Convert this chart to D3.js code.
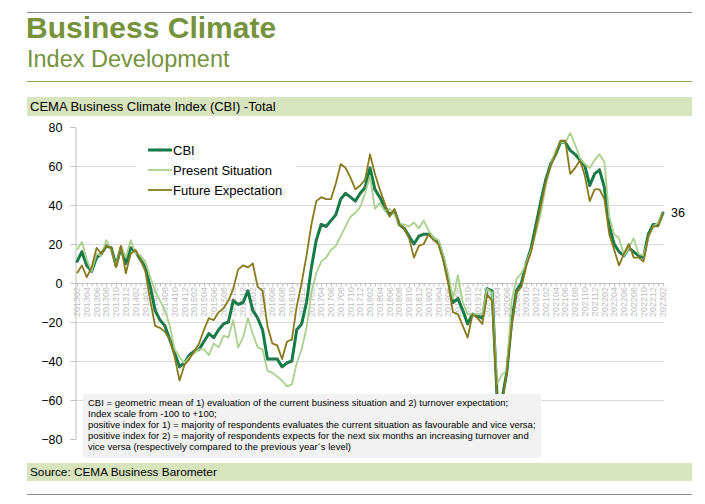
<!DOCTYPE html>
<html>
<head>
<meta charset="utf-8">
<script src="https://cdn.jsdelivr.net/npm/d3@7"></script>
<style>
  body { margin: 0; background: #fff; }
  svg { font-family: "Liberation Sans", Arial, sans-serif; }
</style>
</head>
<body>
<svg></svg>
<script>
// months 201302 .. 202302
var months = ("201302 201303 201304 201305 201306 201307 201308 201309 201310 201311 201312 " +
  "201401 201402 201403 201404 201405 201406 201407 201408 201409 201410 201411 201412 " +
  "201501 201502 201503 201504 201505 201506 201507 201508 201509 201510 201511 201512 " +
  "201601 201602 201603 201604 201605 201606 201607 201608 201609 201610 201611 201612 " +
  "201701 201702 201703 201704 201705 201706 201707 201708 201709 201710 201711 201712 " +
  "201801 201802 201803 201804 201805 201806 201807 201808 201809 201810 201811 201812 " +
  "201901 201902 201903 201904 201905 201906 201907 201908 201909 201910 201911 201912 " +
  "202001 202002 202003 202004 202005 202006 202007 202008 202009 202010 202011 202012 " +
  "202101 202102 202103 202104 202105 202106 202107 202108 202109 202110 202111 202112 " +
  "202201 202202 202203 202204 202205 202206 202207 202208 202209 202210 202211 202212 " +
  "202301 202302").split(" ");

var cbi = [11, 16, 9, 6, 13, 15, 19, 18, 9, 18, 10,
  18, 16, 12, 8, -2, -14, -19, -22, -29, -36, -43, -41,
  -37, -35, -34, -30, -26, -28, -24, -21, -20, -9, -11, -10,
  -4, -14, -18, -24, -39, -39, -39, -43, -41, -40, -24, -21,
  -10, 8, 22, 30, 29, 32, 35, 43, 46, 44, 42, 46,
  49, 59, 48, 44, 39, 35, 37, 30, 28, 24, 20, 24,
  25, 25, 23, 21, 13, 2, -10, -8, -14, -21, -16, -17,
  -18, -3, -4, -57, -60, -46, -20, -4, 0, 10, 18, 30,
  42, 53, 61, 66, 72, 72, 68, 66, 63, 60, 50, 56,
  58, 49, 29, 20, 16, 14, 18, 16, 14, 13, 25, 30,
  30, 36];

var present = [17, 21, 12, 6, 15, 14, 22, 17, 9, 19, 13,
  22, 15, 14, 11, 3, -4, -9, -14, -22, -34, -38, -41,
  -38, -36, -34, -34, -37, -31, -33, -27, -28, -19, -33, -28,
  -18, -26, -33, -34, -45, -46, -48, -50, -53, -52, -41, -34,
  -23, -5, 5, 11, 13, 17, 19, 24, 29, 34, 36, 39,
  46, 55, 38, 41, 37, 38, 35, 30, 30, 29, 31, 28,
  32, 27, 23, 22, 14, 5, -8, 4, -10, -16, -16, -16,
  -16, -3, -5, -52, -47, -45, -9, 2, 5, 10, 17, 26,
  36, 50, 60, 68, 72, 72, 77, 71, 64, 61, 59, 63,
  66, 62, 34, 25, 23, 14, 18, 23, 15, 14, 23, 29,
  31, 36];

var future = [5, 9, 3, 8, 18, 15, 19, 18, 8, 19, 5,
  15, 17, 12, 6, -9, -22, -23, -25, -29, -38, -50, -42,
  -39, -35, -31, -24, -18, -19, -15, -13, -9, -3, 7, 9,
  8, 10, -2, -4, -22, -31, -32, -39, -30, -29, -12, 0,
  14, 30, 42, 44, 43, 43, 51, 61, 59, 54, 48, 50,
  53, 66, 56, 48, 41, 34, 38, 30, 28, 23, 13, 19,
  20, 25, 22, 20, 12, 0, -15, -16, -22, -28, -16, -18,
  -21, -6, -9, -58, -62, -46, -22, -5, -2, 9, 16, 28,
  40, 52, 60, 66, 73, 73, 56, 59, 63, 55, 42, 48,
  48, 43, 25, 17, 9, 15, 20, 13, 13, 11, 24, 29,
  29, 36];

var yTicks = [-80, -60, -40, -20, 0, 20, 40, 60, 80];

var noteLines = [
  "CBI = geometric mean of 1) evaluation of the current business situation and 2) turnover expectation;",
  "Index scale from -100 to +100;",
  "positive index for 1) = majority of respondents evaluates the current situation as favourable and vice versa;",
  "positive index for 2) = majority of respondents expects for the next six months an increasing turnover and",
  "vice versa (respectively compared to the previous year\u00b4s level)"
];

var width = 705, height = 504;
var svg = d3.select("svg").attr("width", width).attr("height", height);

// page header
svg.append("line").attr("x1", 27).attr("x2", 692).attr("y1", 12.5).attr("y2", 12.5)
  .attr("stroke", "#8c8c8c").attr("stroke-width", 1);
svg.append("text").attr("x", 26).attr("y", 38)
  .attr("font-size", 30).attr("font-weight", "bold").attr("fill", "#76923c")
  .text("Business Climate");
svg.append("text").attr("x", 27).attr("y", 67)
  .attr("font-size", 23.5).attr("fill", "#76923c")
  .text("Index Development");
svg.append("line").attr("x1", 27).attr("x2", 692).attr("y1", 81.5).attr("y2", 81.5)
  .attr("stroke", "#8ea356").attr("stroke-width", 1);

svg.append("rect").attr("x", 27).attr("y", 97).attr("width", 665).attr("height", 19)
  .attr("fill", "#d7e4bd");
svg.append("text").attr("x", 30).attr("y", 111).attr("font-size", 13).attr("fill", "#000")
  .text("CEMA Business Climate Index (CBI) -Total");

// scales
var x = d3.scalePoint().domain(months).range([77, 663]);
var y = d3.scaleLinear().domain([-80, 80]).range([439, 127]);

// gridlines
svg.append("g").selectAll("line")
  .data(yTicks.filter(function(d) { return d !== 0 && d !== 80 && d !== -80; }))
  .enter().append("line")
  .attr("x1", 75).attr("x2", 664)
  .attr("y1", function(d) { return Math.round(y(d)) + 0.5; })
  .attr("y2", function(d) { return Math.round(y(d)) + 0.5; })
  .attr("stroke", "#d9d9d9");

// y axis
var yAxis = svg.append("g").attr("transform", "translate(75.5,0)")
  .call(d3.axisLeft(y).tickValues(yTicks).tickSize(5).tickPadding(8));
yAxis.select(".domain").attr("stroke", "#bfbfbf");
yAxis.selectAll(".tick line").attr("stroke", "#bfbfbf");
yAxis.selectAll("text").attr("font-size", 12.5).attr("fill", "#000")
  .attr("font-family", "'Liberation Sans', Arial, sans-serif");

// x axis along zero
var xAxis = svg.append("g").attr("transform", "translate(0," + (Math.round(y(0)) + 0.5) + ")")
  .call(d3.axisBottom(x).tickSize(3).tickFormat(""));
xAxis.select(".domain").attr("stroke", "#bfbfbf").attr("d", "M75,0H664");
xAxis.selectAll(".tick line").attr("stroke", "#bfbfbf");

svg.append("g").selectAll("text")
  .data(months.filter(function(d, i) { return i % 2 === 0; }))
  .enter().append("text")
  .attr("transform", function(d) { return "translate(" + x(d) + "," + (y(0) + 4) + ") rotate(-90)"; })
  .attr("text-anchor", "end")
  .attr("dy", "0.35em")
  .attr("font-size", 9)
  .attr("fill", "#c0c0c0")
  .text(function(d) { return d; });

// lines
var line = d3.line()
  .x(function(d, i) { return x(months[i]); })
  .y(function(d) { return y(d); });

svg.append("path").datum(cbi).attr("d", line)
  .attr("fill", "none").attr("stroke", "#0f7c46").attr("stroke-width", 3)
  .attr("stroke-linejoin", "round");
svg.append("g").selectAll("circle").data(cbi).enter().append("circle")
  .attr("cx", function(d, i) { return x(months[i]); })
  .attr("cy", function(d) { return y(d); })
  .attr("r", 1.4)
  .attr("fill", "#3d7358");
svg.append("path").datum(present).attr("d", line)
  .attr("fill", "none").attr("stroke", "#abd08e").attr("stroke-width", 1.8)
  .attr("stroke-linejoin", "round");
svg.append("path").datum(future).attr("d", line)
  .attr("fill", "none").attr("stroke", "#867a1c").attr("stroke-width", 1.8)
  .attr("stroke-linejoin", "round");

svg.append("text").attr("x", 671).attr("y", y(cbi[cbi.length - 1]) + 4)
  .attr("font-size", 12.5).attr("fill", "#000").text(cbi[cbi.length - 1]);

// legend
var legend = [
  {name: "CBI", color: "#0f7c46", w: 3},
  {name: "Present Situation", color: "#abd08e", w: 1.8},
  {name: "Future Expectation", color: "#867a1c", w: 1.8}
];
svg.append("rect").attr("x", 136).attr("y", 140).attr("width", 160).attr("height", 60)
  .attr("fill", "#fff");
var lg = svg.append("g").selectAll("g").data(legend).enter().append("g")
  .attr("transform", function(d, i) { return "translate(148," + (150 + i * 20) + ")"; });
lg.append("line").attr("x1", 0).attr("x2", 24)
  .attr("stroke", function(d) { return d.color; })
  .attr("stroke-width", function(d) { return d.w; });
lg.filter(function(d, i) { return i === 0; }).append("circle")
  .attr("cx", 12).attr("r", 1.6).attr("fill", "#3d7358");
lg.append("text").attr("x", 25).attr("y", 4.5).attr("font-size", 13).attr("fill", "#000")
  .text(function(d) { return d.name; });

// note box
svg.append("rect").attr("x", 83).attr("y", 394).attr("width", 458).attr("height", 64)
  .attr("fill", "#f2f2f2");
svg.append("g").selectAll("text").data(noteLines).enter().append("text")
  .attr("x", 88)
  .attr("y", function(d, i) { return 406 + i * 11; })
  .attr("font-size", 9.5)
  .attr("fill", "#000")
  .text(function(d) { return d; });

// source footer
svg.append("rect").attr("x", 27).attr("y", 463).attr("width", 665).attr("height", 18)
  .attr("fill", "#d7e4bd");
svg.append("text").attr("x", 30).attr("y", 476).attr("font-size", 11.8).attr("fill", "#000")
  .text("Source: CEMA Business Barometer");
svg.append("line").attr("x1", 27).attr("x2", 692).attr("y1", 494.5).attr("y2", 494.5)
  .attr("stroke", "#8c8c8c");
</script>
</body>
</html>
